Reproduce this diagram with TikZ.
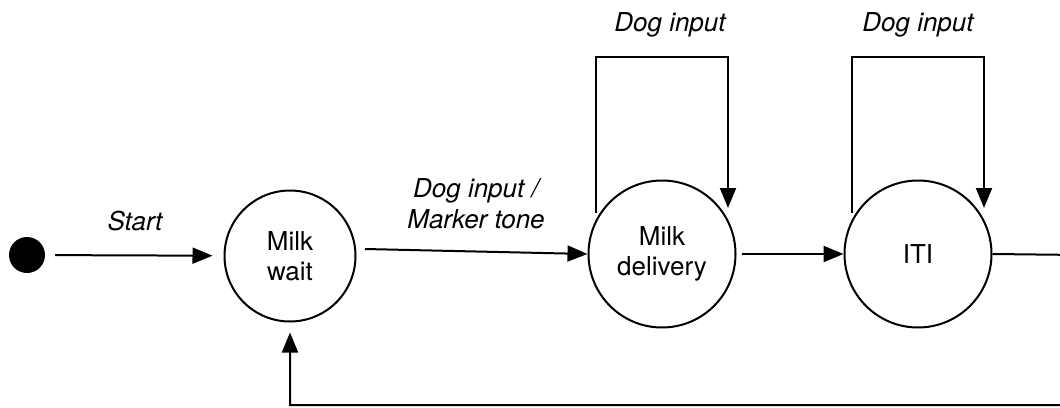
\documentclass[tikz,border=0pt]{standalone}
\usepackage{fontspec}
\setmainfont{TeX Gyre Heros}
\usetikzlibrary{arrows.meta,calc}
\begin{document}
\begin{tikzpicture}[x=1pt,y=-1pt,
  every node/.style={font=\fontsize{26}{30}\selectfont},
  state/.style={circle,draw,line width=2pt,align=center,inner sep=0pt},
  dot/.style={circle,fill=black,minimum size=36pt,inner sep=0pt},
  conn/.style={line width=2pt},
  arr/.style={conn,-{Triangle[length=20pt,width=16pt]}},
  lbl/.style={anchor=base,font=\fontsize{26}{30}\selectfont\itshape,align=center}]
\clip (0,0) rectangle (1060,407);
\fill[white] (0,0) rectangle (1060,407);
\node[dot] (s) at (27,255) {};
\node[state,minimum size=131pt] (mw) at (290,256) {Milk\\wait};
\node[state,minimum size=147pt] (md) at (662,254) {Milk\\delivery};
\node[state,minimum size=147pt] (iti) at (918,254) {ITI};
% start
\draw[arr,shorten <=10pt,shorten >=11pt] (s) -- (mw);
\node[lbl] (ls) at (135,230) {Start};
% milk wait -> delivery
\coordinate (mwo) at ($(mw.center)+(75,-7)$);
\draw[arr] (mwo) -- (md.west);
\node[lbl] (l1) at (476,197) {Dog input /};
\node[lbl] (l2) at (476,228) {Marker tone};
% delivery -> ITI
\draw[arr,shorten <=5pt] (md.east) -- (iti.west);
% self loops
\coordinate (mdl) at ($(md.center)+(-66,-41)$);
\coordinate (mdr) at ($(md.center)+(66,-46)$);
\draw[arr] (mdl) -- ++(0,-156) -| (mdr);
\node[lbl] (l3) at (670,31) {Dog input};
\coordinate (itil) at ($(iti.center)+(-66,-41)$);
\coordinate (itir) at ($(iti.center)+(66,-46)$);
\draw[arr] (itil) -- ++(0,-156) -| (itir);
\node[lbl] (l4) at (918,31) {Dog input};
% return loop
\coordinate (rt) at (1080,255);
\coordinate (rb) at (1080,405);
\draw[arr,shorten >=10pt] (iti.east) -- (rt) -- (rb) -| (mw.south);
\end{tikzpicture}
\end{document}
